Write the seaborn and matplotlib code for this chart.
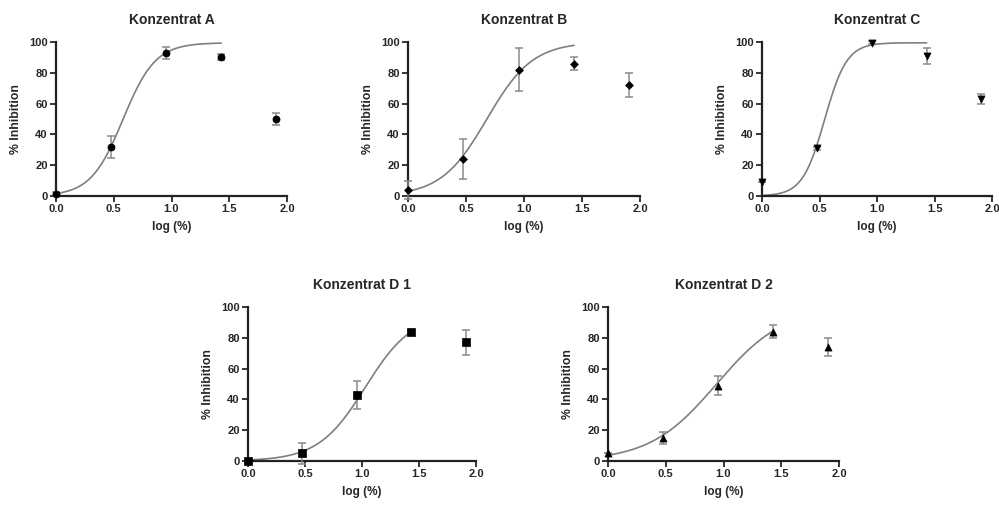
import numpy as np
import pandas as pd
import matplotlib
matplotlib.use("Agg")
import matplotlib.pyplot as plt
import seaborn as sns

# log concentration steps (log of 1, 3, 9, 27, 81 %)
log_conc = [0.0, 0.477, 0.954, 1.431, 1.908]

titles = ["Konzentrat A", "Konzentrat B", "Konzentrat C", "Konzentrat D 1", "Konzentrat D 2"]
markers = ["o", "D", "v", "s", "^"]

inhib_a = [1.5, 32, 93, 90, 50]
err_a = [1, 7, 4, 2, 4]
inhib_b = [4, 24, 82, 86, 72]
err_b = [6, 13, 14, 4, 8]
inhib_c = [9, 31, 99.5, 91, 63]
err_c = [0, 1, 1, 5, 3]
inhib_d1 = [0, 5, 43, 84, 77]
err_d1 = [0.5, 7, 9, 1, 8]
inhib_d2 = [5, 15, 49, 84, 74]
err_d2 = [0, 4, 6, 4, 6]

# fitted 4PL parameters (bottom, top, logEC50, hill) per concentrate
fit_a = (0, 99.5, 0.58, 3.1)
fit_b = (0, 100, 0.68, 2.2)
fit_c = (0, 99.5, 0.545, 4.5)
fit_d1 = (0, 96, 1.03, 2.1)
fit_d2 = (0, 100, 0.94, 1.5)

inhibitions = [inhib_a, inhib_b, inhib_c, inhib_d1, inhib_d2]
errors = [err_a, err_b, err_c, err_d1, err_d2]
fits = [fit_a, fit_b, fit_c, fit_d1, fit_d2]

# axes boxes in pixels: left, right, top, bottom
W, H = 999, 505
boxes = [
    (56, 287, 42, 196),
    (408, 640, 42, 196),
    (762, 992, 42, 196),
    (248, 476, 307, 461),
    (608, 839, 307, 461),
]

sns.set_style("ticks")
plt.rcParams["font.family"] = ["Liberation Sans", "DejaVu Sans"]
plt.rcParams["font.weight"] = "bold"

fig = plt.figure(figsize=(W / 100, H / 100), dpi=100)

for title, mk, y, e, fit, (l, r, t, b) in zip(titles, markers, inhibitions, errors, fits, boxes):
    ax = fig.add_axes([l / W, (H - b) / H, (r - l) / W, (b - t) / H])
    bottom, top, ec50, hill = fit
    xs = np.linspace(0, log_conc[3], 200)
    curve = pd.DataFrame({"x": xs, "y": bottom + (top - bottom) / (1 + 10 ** ((ec50 - xs) * hill))})
    pts = pd.DataFrame({"x": log_conc, "y": y, "err": e})

    sns.lineplot(data=curve, x="x", y="y", ax=ax, color="#7f7f7f", linewidth=1.2)
    ax.errorbar(pts["x"], pts["y"], yerr=pts["err"], fmt="none", ecolor="#8a8a8a",
                elinewidth=1.1, capsize=3, capthick=1.1, clip_on=False, zorder=3)
    sns.scatterplot(data=pts, x="x", y="y", ax=ax, marker=mk, color="black",
                    s=26 if mk != "D" else 16, edgecolor="black", linewidth=0.5,
                    clip_on=False, zorder=4)

    ax.set_xlim(0, 2.0)
    ax.set_ylim(0, 100)
    ax.set_xticks([0.0, 0.5, 1.0, 1.5, 2.0])
    ax.set_xticklabels(["0.0", "0.5", "1.0", "1.5", "2.0"])
    ax.set_yticks([0, 20, 40, 60, 80, 100])
    sns.despine(ax=ax)
    for s in ("left", "bottom"):
        ax.spines[s].set_linewidth(1.6)
        ax.spines[s].set_color("#222222")
    ax.tick_params(axis="both", direction="out", length=4, width=1.3, labelsize=8, pad=2)
    for lab in ax.get_xticklabels() + ax.get_yticklabels():
        lab.set_fontweight("bold")
    ax.set_xlabel("log (%)", fontsize=8.5, fontweight="bold", labelpad=5)
    ax.set_ylabel("% Inhibition", fontsize=8.8, fontweight="bold", labelpad=5)
    ax.set_title(title, fontsize=10, fontweight="bold", pad=13)

plt.savefig("out.png", dpi=100)
plt.close()
